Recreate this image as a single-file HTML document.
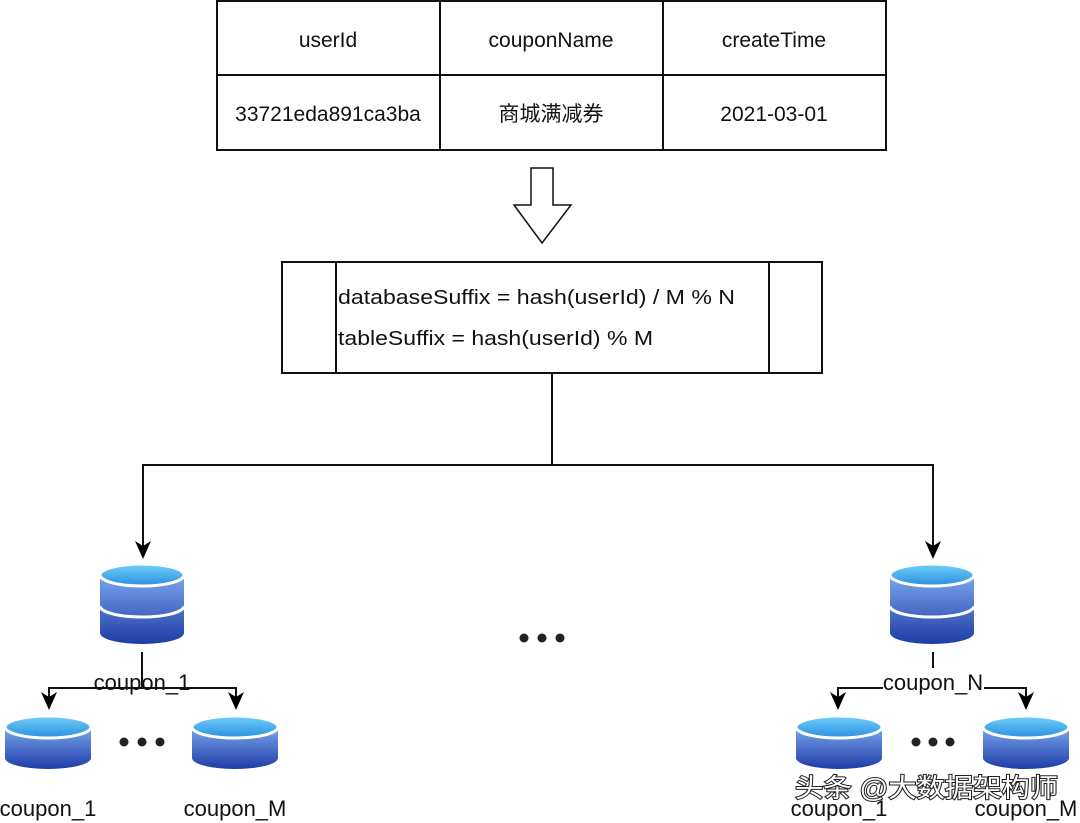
<!DOCTYPE html>
<html><head><meta charset="utf-8"><style>
html,body{margin:0;padding:0;background:#fff;width:1080px;height:823px;overflow:hidden}
svg{display:block}
text{font-family:"Liberation Sans","Noto Sans CJK SC",sans-serif;fill:#111}
</style></head><body>
<svg width="1080" height="823" viewBox="0 0 1080 823" xmlns="http://www.w3.org/2000/svg">
<defs>
<linearGradient id="body" x1="0" y1="0" x2="0" y2="1">
<stop offset="0" stop-color="#7aa6ec"/><stop offset="1" stop-color="#1e3ca6"/></linearGradient>
<linearGradient id="top" x1="0" y1="0" x2="0" y2="1">
<stop offset="0" stop-color="#6fd0fa"/><stop offset="1" stop-color="#2b8fe0"/></linearGradient>
<g id="big">
<path d="M-42,0 v58 a42,11 0 0 0 84,0 v-58 z" fill="url(#body)"/>
<path d="M-42,31 a42,11 0 0 0 84,0" fill="none" stroke="#fff" stroke-width="3"/>
<ellipse cx="0" cy="0" rx="42" ry="11" fill="url(#top)" stroke="#fff" stroke-width="3"/>
</g>
<g id="small">
<path d="M-43,0 v31 a43,11 0 0 0 86,0 v-31 z" fill="url(#body)"/>
<ellipse cx="0" cy="0" rx="43" ry="11" fill="url(#top)" stroke="#fff" stroke-width="3"/>
</g>
<g id="ad"><path d="M-8,-16 L0,2 L8,-16 L0,-11 z" fill="#000"/></g>
</defs>

<g fill="none" stroke="#111" stroke-width="2">
<rect x="217" y="1" width="669" height="149"/>
<line x1="217" y1="75" x2="886" y2="75"/>
<line x1="440" y1="1" x2="440" y2="150"/>
<line x1="663" y1="1" x2="663" y2="150"/>
</g>
<g font-size="21" text-anchor="middle">
<text x="328" y="47">userId</text>
<text x="551" y="47">couponName</text>
<text x="774" y="47">createTime</text>
<text x="328" y="121">33721eda891ca3ba</text>
<text x="551" y="121">商城满减券</text>
<text x="774" y="121">2021-03-01</text>
</g>

<path d="M531,168 H553 V205 H571 L542,243 L514,205 H531 Z" fill="#fff" stroke="#111" stroke-width="1.5"/>

<g fill="none" stroke="#111" stroke-width="2">
<rect x="282" y="262" width="540" height="111"/>
<line x1="336" y1="262" x2="336" y2="373"/>
<line x1="769" y1="262" x2="769" y2="373"/>
</g>
<text x="338" y="304" font-size="20" textLength="397" lengthAdjust="spacingAndGlyphs">databaseSuffix = hash(userId) / M % N</text>
<text x="338" y="345" font-size="20" textLength="315" lengthAdjust="spacingAndGlyphs">tableSuffix = hash(userId) % M</text>

<g fill="none" stroke="#111" stroke-width="2">
<line x1="552" y1="373" x2="552" y2="465"/>
<polyline points="143,550 143,465 933,465 933,550"/>
<line x1="142" y1="652" x2="142" y2="688"/>
<polyline points="49,700 49,688 236,688 236,700"/>
<line x1="933" y1="652" x2="933" y2="668"/>
<polyline points="838,700 838,688 883,688"/>
<polyline points="984,688 1026,688 1026,700"/>
</g>
<use href="#ad" x="143" y="557"/>
<use href="#ad" x="933" y="557"/>
<use href="#ad" x="49" y="708"/>
<use href="#ad" x="236" y="708"/>
<use href="#ad" x="838" y="708"/>
<use href="#ad" x="1026" y="708"/>

<use href="#big" x="142" y="575"/>
<use href="#big" x="932" y="575"/>
<use href="#small" x="48" y="727"/>
<use href="#small" x="235" y="727"/>
<use href="#small" x="839" y="727"/>
<use href="#small" x="1026" y="727"/>

<g font-size="22" text-anchor="middle">
<text x="142" y="690">coupon_1</text>
<text x="933" y="690">coupon_N</text>
<text x="48" y="816">coupon_1</text>
<text x="235" y="816">coupon_M</text>
<text x="839" y="816">coupon_1</text>
<text x="1026" y="816">coupon_M</text>
</g>

<g fill="#222">
<circle cx="524" cy="638" r="4.5"/><circle cx="542" cy="638" r="4.5"/><circle cx="560" cy="638" r="4.5"/>
<circle cx="124" cy="742" r="4.5"/><circle cx="142" cy="742" r="4.5"/><circle cx="160" cy="742" r="4.5"/>
<circle cx="916" cy="742" r="4.5"/><circle cx="933" cy="742" r="4.5"/><circle cx="950" cy="742" r="4.5"/>
</g>

<text x="795" y="797" font-size="26" style="fill:#fff;stroke:#222;stroke-width:2;paint-order:stroke" textLength="263" lengthAdjust="spacingAndGlyphs">头条 @大数据架构师</text>
</svg>
</body></html>
